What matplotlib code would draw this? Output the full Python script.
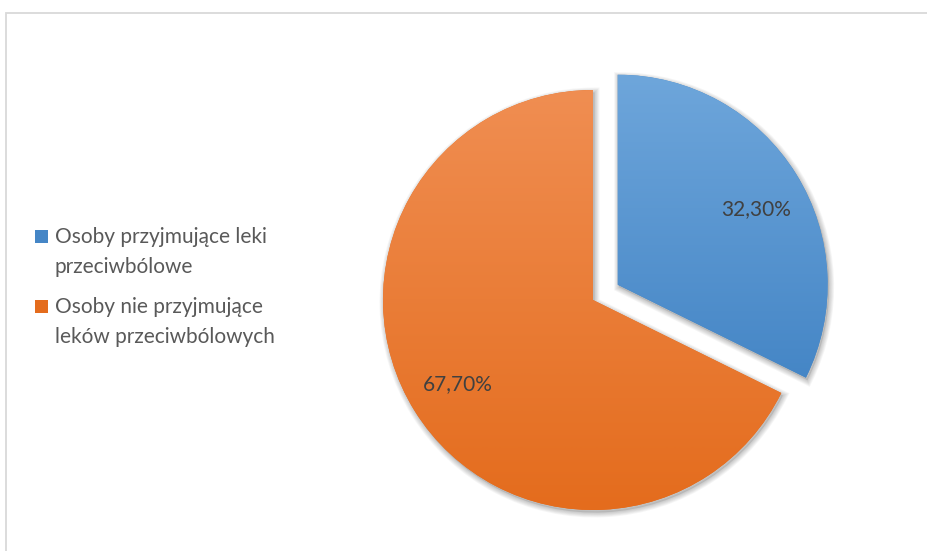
import numpy as np
import matplotlib
matplotlib.use("Agg")
import matplotlib.pyplot as plt
from matplotlib.patches import Rectangle, Wedge
from matplotlib.colors import LinearSegmentedColormap
from matplotlib.transforms import Affine2D

# Share of respondents (percent)
categories = ["Osoby przyjmujące leki\nprzeciwbólowe",
              "Osoby nie przyjmujące\nleków przeciwbólowych"]
values = [32.3, 67.7]
top_colors = ["#6EA6DB", "#F08E52"]
bottom_colors = ["#4586C6", "#E46C1D"]

W, H = 928, 551
FONT = "Lato"
fig = plt.figure(figsize=(W / 100, H / 100), dpi=100)
ax = fig.add_axes([0, 0, 1, 1])

CX, CY, R = 593, 251, 210
EXPLODE = 29

wedges, texts, autotexts = ax.pie(
    values, center=(CX, CY), radius=R, startangle=90, counterclock=False,
    explode=[EXPLODE, 0], colors=bottom_colors, pctdistance=0.76,
    autopct=lambda p: f"{p:.2f}%".replace(".", ","),
    textprops=dict(color="#404040", fontsize=15, family=FONT),
    wedgeprops=dict(linewidth=0))

ax.set_xlim(0, W)
ax.set_ylim(0, H)
ax.set_aspect("auto")
ax.axis("off")

# soft drop shadow under each slice
shift = Affine2D().translate(1.5, -2.5)
for w in wedges:
    for k in range(1, 7):
        sh = Wedge(w.center, w.r, w.theta1, w.theta2, facecolor="none",
                   edgecolor="#000000", linewidth=k * 1.2, alpha=0.035,
                   zorder=0.5)
        sh.set_transform(ax.transData + shift)
        ax.add_patch(sh)
    base = Wedge(w.center, w.r, w.theta1, w.theta2, facecolor="#777777",
                 alpha=0.25, zorder=0.6)
    base.set_transform(ax.transData + shift)
    ax.add_patch(base)

# vertical gradient fill clipped to each slice
grad = np.linspace(1, 0, 256).reshape(-1, 1)
for w, c_top, c_bot in zip(wedges, top_colors, bottom_colors):
    w.set_zorder(1)
    cmap = LinearSegmentedColormap.from_list("g", [c_bot, c_top])
    pts = w.get_verts()
    y0, y1 = pts[:, 1].min(), pts[:, 1].max()
    x0, x1 = pts[:, 0].min(), pts[:, 0].max()
    im = ax.imshow(grad, cmap=cmap, extent=(x0, x1, y0, y1), aspect="auto",
                   origin="upper", zorder=1.5, interpolation="bicubic")
    im.set_clip_path(w)

ax.set_xlim(0, W)
ax.set_ylim(0, H)

for t in autotexts:
    t.set_zorder(3)
# the smaller slice's label sits a little lower inside its wedge
lx, ly = autotexts[0].get_position()
autotexts[0].set_position((lx + 3, ly - 9))

# chart area border (top and left edges visible)
ax.add_patch(Rectangle((6.5, -20), 1000, H - 12.5 + 20, facecolor="none",
                       edgecolor="#D9D9D9", linewidth=1.3, zorder=4,
                       clip_on=False))

# legend
legend_rows = [236, 306]
for label, color, ytop in zip(categories, bottom_colors, legend_rows):
    y = H - ytop
    ax.add_patch(Rectangle((35, y - 6.5), 13, 13, facecolor=color,
                           edgecolor="none", zorder=3))
    ax.text(55, y + 9, label, va="top", ha="left", fontsize=15,
            family=FONT, color="#595959", linespacing=1.62, zorder=3)

fig.savefig("out.png", dpi=100)
